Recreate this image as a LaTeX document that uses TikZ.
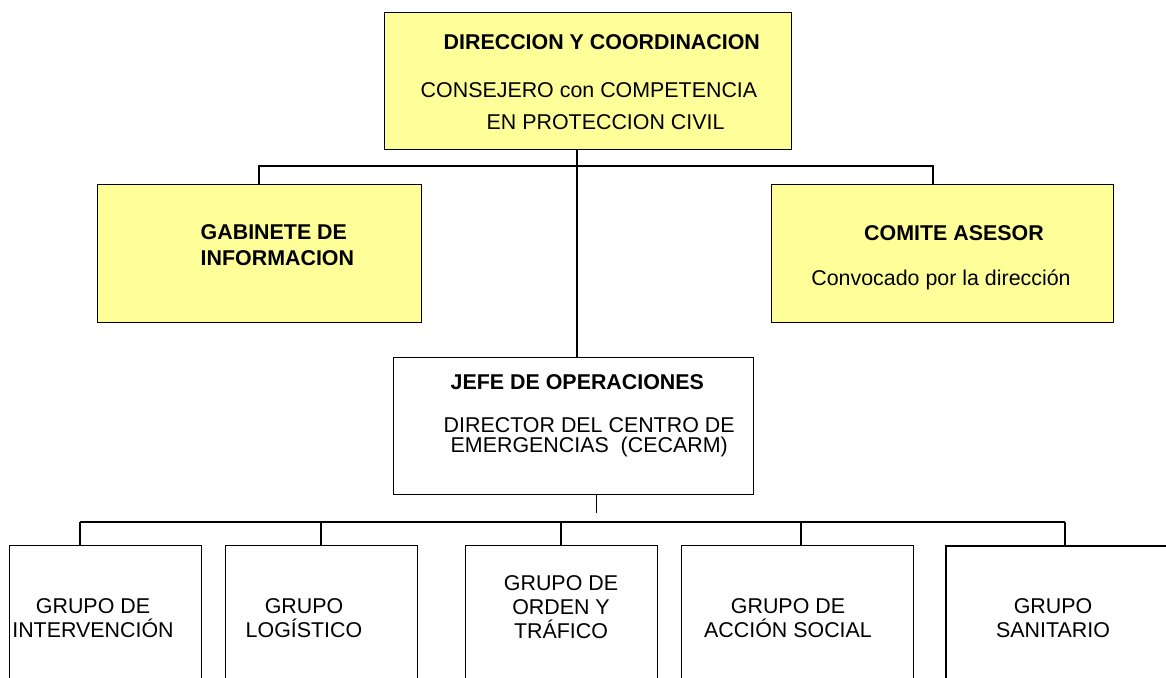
\documentclass[tikz,border=0pt]{standalone}
\usepackage{fontspec}
\setmainfont{Liberation Sans}
\definecolor{paleyellow}{HTML}{FFFF99}
\tikzset{
  box/.style={draw, line width=.7pt, inner sep=0, anchor=north west},
  yellowbox/.style={box, fill=paleyellow},
  lbl/.style={inner sep=0, anchor=west, font=\fontsize{10.7}{12}\selectfont},
  blbl/.style={lbl, font=\fontsize{10.7}{12}\selectfont\bfseries},
  grp/.style={inner sep=0, align=center, font=\fontsize{10.7}{12}\selectfont}
}
\begin{document}
\begin{tikzpicture}[x=.5pt, y=-.5pt, line width=.7pt]
  \useasboundingbox (0,0) rectangle (1166,677);
  \clip (0,0) rectangle (1166,677);
  \node[yellowbox, minimum width=203.5pt, minimum height=68.5pt] (dir) at (384,12) {};
  \node[yellowbox, minimum width=162pt, minimum height=69pt] (gab) at (97,184) {};
  \node[yellowbox, minimum width=171pt, minimum height=69pt] (com) at (771,184) {};
  \node[box, minimum width=180pt, minimum height=68.5pt] (jefe) at (393,357) {};
  \foreach \n/\x/\w in {g1/9/96, g2/225/96, g3/465/96, g4/681/116}
    \node[box, minimum width=\w pt, minimum height=80pt] (\n) at (\x,545) {};
  \node[box, line width=1pt, minimum width=115pt, minimum height=80pt] (g5) at (945,545) {};

  \node[blbl] (dirT) at (443,42) {DIRECCION Y COORDINACION};
  \node[lbl] (dirA) at (420,90) {CONSEJERO con COMPETENCIA};
  \node[lbl] (dirB) at (486,122) {EN PROTECCION CIVIL};
  \node[blbl] (gabA) at (200,232) {GABINETE DE};
  \node[blbl] (gabB) at (200,258) {INFORMACION};
  \node[blbl, anchor=center] (comT) at (954,233) {COMITE ASESOR};
  \node[lbl, anchor=center] (comA) at (941,280) {Convocado por la dirección};
  \node[blbl] (jefT) at (450,382) {JEFE DE OPERACIONES};
  \node[lbl] (jefA) at (443,425) {DIRECTOR DEL CENTRO DE};
  \node[lbl] (jefB) at (450,447) {EMERGENCIAS\ \ (CECARM)};
  \node[grp] (g1T) at (93,618) {GRUPO DE\\INTERVENCIÓN};
  \node[grp] (g2T) at (304,618) {GRUPO\\LOGÍSTICO};
  \node[grp] (g3T) at (561,607) {GRUPO DE\\ORDEN Y\\TRÁFICO};
  \node[grp] (g4T) at (788,618) {GRUPO DE\\ACCIÓN SOCIAL};
  \node[grp] (g5T) at (1053,618) {GRUPO\\SANITARIO};

  \coordinate (t) at (577,0);
  \draw[line width=1.2pt] (t |- dir.south) -- (t |- jefe.north);
  \coordinate (b1) at (259,166);
  \coordinate (b2) at (933,166);
  \draw (b1 |- gab.north) -- (b1) -- (b2) -- (b2 |- com.north);
  \draw ([xshift=11.5pt]jefe.south) -- ++(0,18);
  \foreach \i/\x in {1/80, 2/321, 3/561, 4/801, 5/1065} {
    \coordinate (d\i) at (\x,522);
    \draw (d\i) -- (d\i |- g\i.north);
  }
  \draw (d1) -- (d5);
\end{tikzpicture}
\end{document}
